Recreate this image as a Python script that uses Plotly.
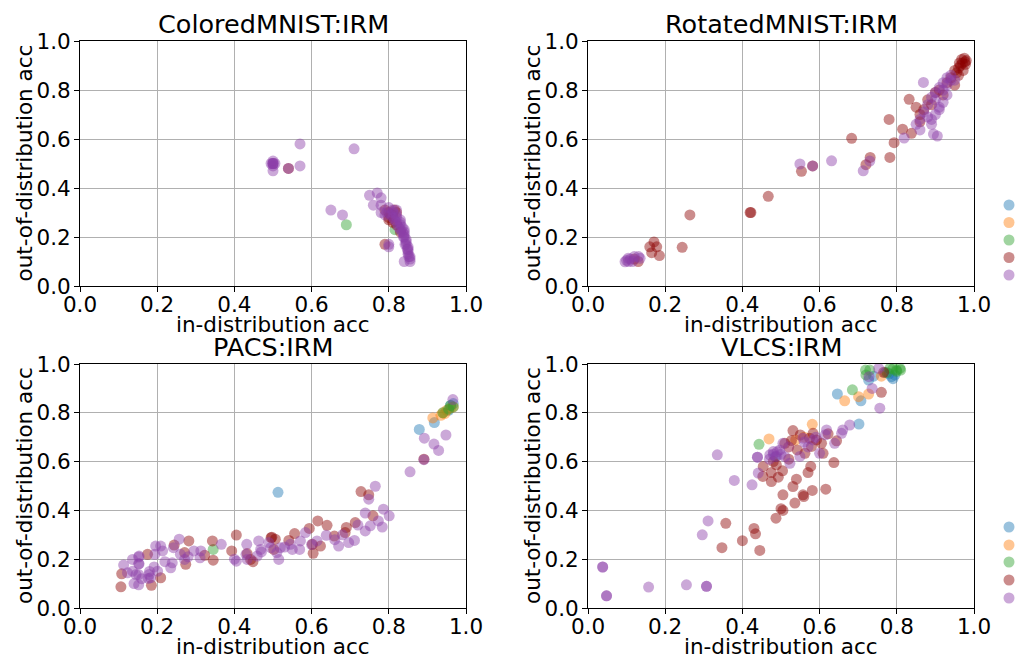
import plotly.graph_objects as go

# ---------------- data ----------------
# Panel 1: ColoredMNIST:IRM
cm_green_x = [0.69, 0.816]
cm_green_y = [0.25, 0.23]
cm_red_x = [0.54, 0.80, 0.81, 0.79, 0.82, 0.80, 0.82, 0.83, 0.79, 0.80, 0.81, 0.815, 0.805]
cm_red_y = [0.48, 0.30, 0.29, 0.31, 0.30, 0.27, 0.25, 0.22, 0.17, 0.28, 0.26, 0.31, 0.29]
cm_purple_x = [0.50, 0.50, 0.50, 0.50, 0.50, 0.495, 0.505, 0.50, 0.57, 0.57, 0.71, 0.54,
               0.65, 0.68, 0.75, 0.77, 0.78, 0.76, 0.78,
               0.80, 0.81, 0.81, 0.82, 0.82, 0.83, 0.83, 0.83, 0.835, 0.84, 0.84, 0.84,
               0.84, 0.845, 0.845, 0.845, 0.85, 0.85, 0.85, 0.85, 0.855, 0.855, 0.855,
               0.84, 0.82, 0.81, 0.79, 0.78, 0.80, 0.795, 0.805, 0.815, 0.825, 0.835,
               0.838, 0.842, 0.848, 0.852, 0.83, 0.82, 0.80]
cm_purple_y = [0.50, 0.50, 0.49, 0.51, 0.50, 0.50, 0.50, 0.47, 0.58, 0.49, 0.56, 0.48,
               0.31, 0.29, 0.37, 0.38, 0.36, 0.33, 0.33,
               0.32, 0.31, 0.30, 0.29, 0.28, 0.27, 0.26, 0.25, 0.24, 0.23, 0.22, 0.21,
               0.20, 0.19, 0.18, 0.17, 0.16, 0.15, 0.14, 0.13, 0.12, 0.11, 0.10,
               0.10, 0.26, 0.28, 0.29, 0.30, 0.17, 0.30, 0.29, 0.27, 0.24, 0.22,
               0.20, 0.17, 0.15, 0.12, 0.23, 0.31, 0.16]

# Panel 2: RotatedMNIST:IRM
rm_red_x = [0.16, 0.171, 0.178, 0.165, 0.185, 0.244, 0.264, 0.42, 0.422, 0.467, 0.553, 0.582,
            0.683, 0.731, 0.72, 0.832, 0.78, 0.793, 0.782, 0.815, 0.838, 0.86, 0.85,
            0.977, 0.97, 0.975, 0.98, 0.965, 0.96, 0.972, 0.978, 0.968, 0.962, 0.955,
            0.94, 0.93, 0.95, 0.91, 0.92, 0.88, 0.87, 0.89, 0.9, 0.86, 0.95, 0.96,
            0.12, 0.13]
rm_red_y = [0.16, 0.18, 0.16, 0.136, 0.124, 0.158, 0.29, 0.30, 0.30, 0.366, 0.468, 0.49,
            0.603, 0.525, 0.495, 0.762, 0.68, 0.585, 0.525, 0.64, 0.623, 0.70, 0.73,
            0.915, 0.91, 0.93, 0.92, 0.90, 0.89, 0.88, 0.905, 0.925, 0.91, 0.87,
            0.85, 0.83, 0.82, 0.80, 0.78, 0.76, 0.72, 0.74, 0.79, 0.67, 0.88, 0.86,
            0.11, 0.10]
rm_purple_x = [0.096, 0.104, 0.11, 0.10, 0.12, 0.131, 0.135, 0.115, 0.105,
               0.549, 0.582, 0.631, 0.713, 0.73,
               0.869, 0.819, 0.905, 0.895, 0.86, 0.89, 0.90, 0.91, 0.92, 0.93,
               0.88, 0.89, 0.90, 0.91, 0.92, 0.93, 0.94, 0.92, 0.90, 0.91,
               0.87, 0.88, 0.93, 0.94, 0.95, 0.89, 0.86, 0.85]
rm_purple_y = [0.099, 0.113, 0.11, 0.105, 0.12, 0.12, 0.113, 0.10, 0.10,
               0.498, 0.49, 0.511, 0.47, 0.51,
               0.831, 0.604, 0.612, 0.62, 0.637, 0.68, 0.70, 0.72, 0.75, 0.78,
               0.74, 0.77, 0.79, 0.81, 0.83, 0.85, 0.84, 0.80, 0.76, 0.73,
               0.71, 0.69, 0.82, 0.86, 0.84, 0.66, 0.68, 0.66]

# Panel 3: PACS:IRM
pa_blue_x = [0.513, 0.879, 0.918, 0.967, 0.96, 0.955]
pa_blue_y = [0.474, 0.732, 0.76, 0.838, 0.83, 0.81]
pa_orange_x = [0.914, 0.94, 0.95, 0.96, 0.967, 0.945, 0.935]
pa_orange_y = [0.779, 0.80, 0.81, 0.82, 0.824, 0.797, 0.79]
pa_green_x = [0.345, 0.967, 0.955, 0.96, 0.94]
pa_green_y = [0.24, 0.824, 0.815, 0.83, 0.80]
pa_red_x = [0.728, 0.748, 0.759, 0.713, 0.69, 0.659, 0.687, 0.616, 0.64, 0.623, 0.604, 0.602,
            0.594, 0.556, 0.541, 0.495, 0.506, 0.502, 0.448, 0.433, 0.442, 0.405, 0.393,
            0.343, 0.345, 0.323, 0.282, 0.271, 0.274, 0.244, 0.209, 0.185, 0.175,
            0.108, 0.106, 0.497, 0.891]
pa_red_y = [0.477, 0.464, 0.378, 0.35, 0.33, 0.295, 0.309, 0.357, 0.339, 0.254, 0.224, 0.261,
            0.326, 0.305, 0.277, 0.288, 0.282, 0.24, 0.19, 0.223, 0.199, 0.299, 0.234,
            0.275, 0.196, 0.216, 0.275, 0.227, 0.179, 0.258, 0.124, 0.093, 0.22,
            0.14, 0.087, 0.29, 0.61]
pa_purple_x = [0.892, 0.917, 0.929, 0.948, 0.891, 0.855, 0.765, 0.748, 0.739, 0.801, 0.786,
               0.773, 0.783, 0.739, 0.752, 0.67, 0.696, 0.711, 0.638, 0.614, 0.584, 0.571,
               0.569, 0.545, 0.519, 0.494, 0.51, 0.515, 0.489, 0.463, 0.468, 0.459, 0.432,
               0.433, 0.405, 0.366, 0.313, 0.311, 0.295, 0.271, 0.257, 0.242, 0.235, 0.239,
               0.214, 0.209, 0.196, 0.194, 0.201, 0.192, 0.183, 0.177, 0.179, 0.153, 0.153,
               0.152, 0.152, 0.152, 0.152, 0.136, 0.145, 0.136, 0.113, 0.123, 0.966,
               0.72, 0.68, 0.66, 0.60, 0.55, 0.53, 0.47, 0.43, 0.40, 0.28, 0.26, 0.22,
               0.18, 0.16, 0.14]
pa_purple_y = [0.696, 0.672, 0.646, 0.709, 0.608, 0.558, 0.499, 0.446, 0.389, 0.378, 0.405,
               0.357, 0.332, 0.316, 0.337, 0.254, 0.268, 0.277, 0.298, 0.275, 0.309, 0.275,
               0.24, 0.261, 0.247, 0.247, 0.227, 0.199, 0.268, 0.275, 0.24, 0.213, 0.261,
               0.199, 0.192, 0.261, 0.234, 0.206, 0.234, 0.199, 0.282, 0.247, 0.165, 0.185,
               0.234, 0.254, 0.254, 0.22, 0.151, 0.168, 0.124, 0.121, 0.137, 0.213, 0.181,
               0.209, 0.181, 0.137, 0.095, 0.199, 0.137, 0.151, 0.176, 0.144, 0.854,
               0.34, 0.30, 0.28, 0.26, 0.24, 0.25, 0.23, 0.22, 0.20, 0.21, 0.22, 0.19,
               0.15, 0.12, 0.10]

# Panel 4: VLCS:IRM
vl_blue_x = [0.702, 0.646, 0.707, 0.727, 0.786, 0.79, 0.78, 0.795, 0.485, 0.74, 0.77]
vl_blue_y = [0.754, 0.877, 0.849, 0.934, 0.948, 0.94, 0.96, 0.955, 0.62, 0.95, 0.965]
vl_orange_x = [0.469, 0.581, 0.538, 0.665, 0.701, 0.727, 0.52, 0.56, 0.76]
vl_orange_y = [0.693, 0.753, 0.689, 0.849, 0.866, 0.877, 0.66, 0.70, 0.95]
vl_green_x = [0.443, 0.685, 0.719, 0.73, 0.799, 0.808, 0.782, 0.80, 0.79, 0.81, 0.72, 0.775]
vl_green_y = [0.671, 0.894, 0.975, 0.975, 0.975, 0.982, 0.982, 0.97, 0.98, 0.975, 0.955, 0.965]
vl_red_x = [0.357, 0.347, 0.40, 0.43, 0.434, 0.445, 0.454, 0.453, 0.475, 0.475, 0.493, 0.504,
            0.488, 0.487, 0.50, 0.505, 0.505, 0.536, 0.531, 0.54, 0.557, 0.559, 0.581,
            0.57, 0.577, 0.616, 0.637, 0.531, 0.55, 0.574, 0.592, 0.605, 0.579, 0.622,
            0.644, 0.527, 0.51, 0.542, 0.562, 0.583, 0.609, 0.76, 0.766, 0.48, 0.52]
vl_red_y = [0.347, 0.247, 0.276, 0.326, 0.304, 0.236, 0.58, 0.539, 0.518, 0.555, 0.536, 0.562,
            0.587, 0.368, 0.407, 0.40, 0.464, 0.43, 0.498, 0.528, 0.464, 0.457, 0.482,
            0.555, 0.58, 0.487, 0.596, 0.727, 0.709, 0.696, 0.689, 0.675, 0.662, 0.714,
            0.685, 0.686, 0.675, 0.648, 0.634, 0.716, 0.634, 0.884, 0.966, 0.60, 0.61]
vl_purple_x = [0.038, 0.038, 0.048, 0.048, 0.157, 0.255, 0.307, 0.307, 0.311, 0.296, 0.335,
               0.379, 0.425, 0.441, 0.439, 0.439, 0.48, 0.497, 0.471, 0.488, 0.505, 0.523,
               0.549, 0.557, 0.583, 0.6, 0.618, 0.639, 0.657, 0.756, 0.736, 0.753, 0.728,
               0.678, 0.66, 0.615, 0.48, 0.49, 0.47, 0.50, 0.51, 0.52, 0.56, 0.57, 0.59]
vl_purple_y = [0.168, 0.168, 0.05, 0.05, 0.086, 0.095, 0.089, 0.089, 0.357, 0.30, 0.628,
               0.523, 0.505, 0.553, 0.618, 0.618, 0.641, 0.648, 0.628, 0.621, 0.675, 0.593,
               0.621, 0.696, 0.689, 0.634, 0.73, 0.675, 0.716, 0.819, 0.90, 0.982, 0.948,
               0.75, 0.73, 0.71, 0.63, 0.64, 0.61, 0.63, 0.62, 0.66, 0.68, 0.66, 0.70]

titles = ["ColoredMNIST:IRM", "RotatedMNIST:IRM", "PACS:IRM", "VLCS:IRM"]
x_label = "in-distribution acc"
y_label = "out-of-distribution acc"
tick_vals = [0.0, 0.2, 0.4, 0.6, 0.8, 1.0]
tick_text = ["0.0", "0.2", "0.4", "0.6", "0.8", "1.0"]

series_colors = ["#1f77b4", "#ff7f0e", "#2ca02c", "#8b0000", "#8b3fa8"]

panels = [
    [None, None, (cm_green_x, cm_green_y), (cm_red_x, cm_red_y), (cm_purple_x, cm_purple_y)],
    [None, None, None, (rm_red_x, rm_red_y), (rm_purple_x, rm_purple_y)],
    [(pa_blue_x, pa_blue_y), (pa_orange_x, pa_orange_y), (pa_green_x, pa_green_y),
     (pa_red_x, pa_red_y), (pa_purple_x, pa_purple_y)],
    [(vl_blue_x, vl_blue_y), (vl_orange_x, vl_orange_y), (vl_green_x, vl_green_y),
     (vl_red_x, vl_red_y), (vl_purple_x, vl_purple_y)],
]

# ---------------- layout ----------------
W, H = 1021, 658
ML, MR, MT, MB = 80, 47, 41, 50
PW, PH = W - ML - MR, H - MT - MB


def px_x(px):
    return (px - ML) / PW


def px_y(py):
    return (H - MB - py) / PH


x_px = [(80, 466), (588, 974)]
y_px = [(41, 286), (364, 608)]
x_doms = [(px_x(a), px_x(b)) for a, b in x_px]
y_doms = [(px_y(b), px_y(a)) for a, b in y_px]

fig = go.Figure()
FONT = "DejaVu Sans"
TICK_SIZE = 21.5
LABEL_SIZE = 21.5
TITLE_SIZE = 25.5

for i in range(4):
    r, c = divmod(i, 2)
    xa = "x" if i == 0 else f"x{i+1}"
    ya = "y" if i == 0 else f"y{i+1}"
    for s, data in enumerate(panels[i]):
        if data is None:
            continue
        fig.add_trace(go.Scatter(
            x=data[0], y=data[1], mode="markers", xaxis=xa, yaxis=ya,
            marker=dict(size=11, color=series_colors[s], opacity=0.45, line=dict(width=0)),
            showlegend=False, hoverinfo="skip"))
    axkw = dict(range=[0, 1], tickvals=tick_vals, ticktext=tick_text, showgrid=True,
                gridcolor="#b0b0b0", gridwidth=1, showline=True, linecolor="black",
                linewidth=1, mirror=True, ticks="outside", ticklen=5, tickcolor="black",
                tickfont=dict(family=FONT, size=TICK_SIZE, color="black"), zeroline=False,
                fixedrange=True, automargin=False)
    xkey = "xaxis" if i == 0 else f"xaxis{i+1}"
    ykey = "yaxis" if i == 0 else f"yaxis{i+1}"
    fig.layout[xkey] = dict(axkw, domain=x_doms[c], anchor=ya, ticklabelstandoff=-6)
    fig.layout[ykey] = dict(axkw, domain=y_doms[r], anchor=xa, ticklabelstandoff=-1)

    xl, xr = x_px[c]
    yt, yb = y_px[r]
    # subplot title
    fig.add_annotation(text=titles[i], xref="paper", yref="paper",
                       x=px_x((xl + xr) / 2), y=px_y(yt - 17),
                       xanchor="center", yanchor="middle", showarrow=False,
                       font=dict(family=FONT, size=TITLE_SIZE, color="black"))
    # x-axis title
    fig.add_annotation(text=x_label, xref="paper", yref="paper",
                       x=px_x((xl + xr) / 2), y=px_y(yb + 38),
                       xanchor="center", yanchor="middle", showarrow=False,
                       font=dict(family=FONT, size=LABEL_SIZE, color="black"))
    # y-axis title
    fig.add_annotation(text=y_label, xref="paper", yref="paper", textangle=-90,
                       x=px_x(xl - 56), y=px_y((yt + yb) / 2),
                       xanchor="center", yanchor="middle", showarrow=False,
                       font=dict(family=FONT, size=LABEL_SIZE, color="black"))

# clipped legend markers at the right edge
legend_rows_top = [205, 222.5, 240, 257.5, 275]
legend_rows_bottom = [527, 545, 562, 580, 598]
for rows in (legend_rows_top, legend_rows_bottom):
    for s, ypx in enumerate(rows):
        fig.add_shape(type="circle", xref="paper", yref="paper", xsizemode="pixel",
                      ysizemode="pixel", xanchor=px_x(1009), yanchor=px_y(ypx),
                      x0=-5.5, x1=5.5, y0=-5.5, y1=5.5, fillcolor=series_colors[s],
                      opacity=0.45, line=dict(width=0))

fig.update_layout(width=W, height=H, margin=dict(l=ML, r=MR, t=MT, b=MB, autoexpand=False),
                  template="none",
                  paper_bgcolor="white", plot_bgcolor="white", showlegend=False,
                  font=dict(family=FONT, color="black"))

fig.write_html("out.html")
